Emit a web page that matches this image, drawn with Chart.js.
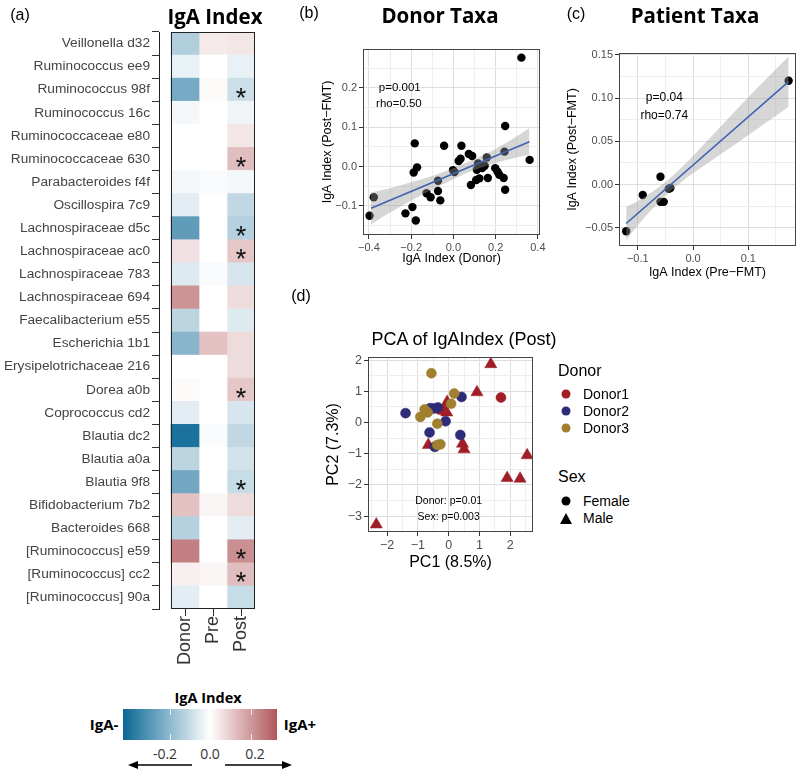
<!DOCTYPE html>
<html>
<head>
<meta charset="utf-8">
<script src="https://cdn.jsdelivr.net/npm/chart.js@4.4.1/dist/chart.umd.min.js"></script>
<style>
  body { margin: 0; background: #fff; }
  #fig { position: relative; width: 800px; height: 771px; font-family: "Liberation Sans", Arial, sans-serif; color: #000; }
  #fig canvas { position: absolute; }
  .t { position: absolute; transform: translate(-50%, -50%); white-space: nowrap; }
  .l { position: absolute; transform: translate(0, -50%); white-space: nowrap; }
  .bold { font-family: "Open Sans", sans-serif; font-weight: 700; }
  .dot { position: absolute; width: 9px; height: 9px; border-radius: 50%; transform: translate(-50%, -50%); }
</style>
</head>
<body>
<div id="fig">
  <canvas id="heat" width="285" height="680" style="left:0;top:0;width:285px;height:680px"></canvas>
  <canvas id="donorTaxa" width="270" height="240" style="left:280px;top:40px;width:270px;height:240px"></canvas>
  <canvas id="patientTaxa" width="255" height="250" style="left:545px;top:40px;width:255px;height:250px"></canvas>
  <canvas id="pca" width="245" height="235" style="left:300px;top:345px;width:245px;height:235px"></canvas>

  <div class="t" style="left:20px;top:15px;font-size:16px">(a)</div>
  <div class="t bold" style="left:215px;top:16px;font-size:20.5px">IgA Index</div>
  <div class="t" style="left:309px;top:13px;font-size:16px">(b)</div>
  <div class="t bold" style="left:440px;top:15px;font-size:20.5px">Donor Taxa</div>
  <div class="t" style="left:576px;top:14px;font-size:16px">(c)</div>
  <div class="t bold" style="left:695px;top:15px;font-size:20.5px">Patient Taxa</div>
  <div class="t" style="left:301px;top:296px;font-size:16px">(d)</div>
  <div class="t" style="left:464px;top:339px;font-size:18px">PCA of IgAIndex (Post)</div>

  <!-- PCA legend -->
  <div class="l" style="left:558px;top:371px;font-size:16px">Donor</div>
  <div class="dot" style="left:566px;top:394px;background:#a11d27"></div>
  <div class="l" style="left:583px;top:394px;font-size:14px">Donor1</div>
  <div class="dot" style="left:566px;top:411px;background:#2e2b78"></div>
  <div class="l" style="left:583px;top:411px;font-size:14px">Donor2</div>
  <div class="dot" style="left:566px;top:428px;background:#a0802f"></div>
  <div class="l" style="left:583px;top:428px;font-size:14px">Donor3</div>
  <div class="l" style="left:558px;top:477px;font-size:16px">Sex</div>
  <div class="dot" style="left:566px;top:501px;background:#000"></div>
  <div class="l" style="left:583px;top:501px;font-size:14px">Female</div>
  <div style="position:absolute;left:560px;top:513px;width:0;height:0;border-left:6px solid transparent;border-right:6px solid transparent;border-bottom:11px solid #000"></div>
  <div class="l" style="left:583px;top:518px;font-size:14px">Male</div>

  <!-- colour key -->
  <div class="t bold" style="left:208px;top:697px;font-size:14.5px">IgA Index</div>
  <div class="t bold" style="left:104px;top:724px;font-size:15px">IgA-</div>
  <div class="t bold" style="left:300px;top:724px;font-size:15px">IgA+</div>
  <div style="position:absolute;left:123px;top:709px;width:154px;height:31px;background:linear-gradient(to right,#0b6795 0%,#ffffff 56.5%,#b0575a 100%)"></div>
  <div style="position:absolute;left:170px;top:709px;width:1px;height:6px;background:rgba(255,255,255,0.8)"></div>
  <div style="position:absolute;left:170px;top:734px;width:1px;height:6px;background:rgba(255,255,255,0.8)"></div>
  <div style="position:absolute;left:251px;top:709px;width:1px;height:6px;background:rgba(255,255,255,0.8)"></div>
  <div style="position:absolute;left:251px;top:734px;width:1px;height:6px;background:rgba(255,255,255,0.8)"></div>
  <div class="t" style="left:165px;top:753px;font-size:14px;font-family:'Open Sans',sans-serif;color:#333">-0.2</div>
  <div class="t" style="left:210px;top:753px;font-size:14px;font-family:'Open Sans',sans-serif;color:#333">0.0</div>
  <div class="t" style="left:255px;top:753px;font-size:14px;font-family:'Open Sans',sans-serif;color:#333">0.2</div>
  <svg style="position:absolute;left:120px;top:757px" width="180" height="16">
    <line x1="72" y1="8" x2="14" y2="8" stroke="#000" stroke-width="1.5"/>
    <polygon points="8,8 18,4 18,12" fill="#000"/>
    <line x1="105" y1="8" x2="166" y2="8" stroke="#000" stroke-width="1.5"/>
    <polygon points="172,8 162,4 162,12" fill="#000"/>
  </svg>
</div>

<script>
// ---- (a) heatmap data ----
const taxa = [
  'Veillonella d32', 'Ruminococcus ee9', 'Ruminococcus 98f', 'Ruminococcus 16c',
  'Ruminococcaceae e80', 'Ruminococcaceae 630', 'Parabacteroides f4f', 'Oscillospira 7c9',
  'Lachnospiraceae d5c', 'Lachnospiraceae ac0', 'Lachnospiraceae 783', 'Lachnospiraceae 694',
  'Faecalibacterium e55', 'Escherichia 1b1', 'Erysipelotrichaceae 216', 'Dorea a0b',
  'Coprococcus cd2', 'Blautia dc2', 'Blautia a0a', 'Blautia 9f8',
  'Bifidobacterium 7b2', 'Bacteroides 668', '[Ruminococcus] e59', '[Ruminococcus] cc2',
  '[Ruminococcus] 90a'
];
const columns = ['Donor', 'Pre', 'Post'];
const donorIga = [-0.14, -0.04, -0.24, -0.02, 0.00, 0.00, -0.02, -0.05, -0.28, 0.06, -0.06, 0.21, -0.12,
  -0.21, 0.00, 0.01, -0.05, -0.40, -0.12, -0.25, 0.12, -0.13, 0.25, 0.03, -0.05];
const preIga = [0.04, 0.00, 0.01, 0.00, 0.00, 0.00, -0.01, 0.00, 0.00, 0.00, -0.01, 0.00, 0.00,
  0.12, 0.00, 0.00, 0.00, -0.01, 0.00, 0.00, 0.02, 0.00, 0.00, 0.02, 0.00];
const postIga = [0.05, -0.04, -0.09, -0.03, 0.05, 0.13, -0.02, -0.11, -0.13, 0.11, -0.07, 0.07, -0.06,
  0.07, 0.07, 0.11, -0.07, -0.11, -0.08, -0.10, 0.07, -0.05, 0.22, 0.13, -0.10];
const postSignificant = [0, 0, 1, 0, 0, 1, 0, 0, 1, 1, 0, 0, 0, 0, 0, 1, 0, 0, 0, 1, 0, 0, 1, 1, 0];
const colourLimits = [-0.43, 0.33];

// ---- (b) donor taxa ----
const donorX = [0.322, -0.397, -0.377, -0.227, -0.194, -0.178, -0.183, -0.172, -0.188, -0.127,
  -0.108, -0.073, -0.062, -0.073, -0.044, -0.002, 0.005, 0.025, 0.034, 0.038,
  0.073, 0.089, 0.083, 0.108, 0.123, 0.117, 0.127, 0.136, 0.111, 0.163,
  0.158, 0.198, 0.209, 0.217, 0.238, 0.245, 0.242, 0.245, 0.361, 0.148];
const donorPostY = [0.277, -0.125, -0.078, -0.119, -0.103, -0.137, 0.059, -0.002, -0.015, -0.068,
  -0.078, -0.062, -0.086, -0.036, 0.053, -0.009, -0.014, 0.014, 0.020, 0.053,
  0.032, 0.027, -0.047, -0.034, -0.030, 0.008, 0.000, -0.004, -0.008, -0.029,
  0.023, -0.004, -0.013, -0.021, -0.029, -0.059, 0.038, 0.103, 0.017, 0.002];
const donorFitX = [-0.39, 0.36];
const donorFitY = [-0.106, 0.063];
const donorBandX = [-0.39, -0.3, -0.2, -0.1, 0.0, 0.1, 0.2, 0.3, 0.36];
const donorBandHigh = [-0.066, -0.055, -0.040, -0.024, -0.004, 0.019, 0.045, 0.077, 0.098];
const donorBandLow = [-0.147, -0.117, -0.086, -0.058, -0.032, -0.009, 0.009, 0.023, 0.030];
const donorXTicks = [-0.4, -0.3, -0.2, -0.1, 0, 0.1, 0.2, 0.3, 0.4];
const donorXMajor = [-0.4, -0.2, 0, 0.2, 0.4];
const donorXLabels = ['\u22120.4', '\u22120.2', '0.0', '0.2', '0.4'];
const donorYTicks = [-0.15, -0.1, -0.05, 0, 0.05, 0.1, 0.15, 0.2, 0.25];
const donorYMajor = [-0.1, 0, 0.1, 0.2];
const donorYLabels = ['\u22120.1', '0.0', '0.1', '0.2'];

// ---- (c) patient taxa ----
const patientPreX = [-0.121, -0.091, -0.059, -0.059, -0.053, -0.044, -0.041, 0.173];
const patientPostY = [-0.054, -0.012, 0.009, -0.020, -0.020, -0.005, -0.004, 0.120];
const patientFitX = [-0.121, 0.173];
const patientFitY = [-0.045, 0.119];
const patientBandX = [-0.121, -0.1, -0.075, -0.05, -0.025, 0, 0.05, 0.1, 0.173];
const patientBandHigh = [-0.026, -0.019, -0.009, 0.003, 0.017, 0.033, 0.067, 0.101, 0.148];
const patientBandLow = [-0.064, -0.047, -0.029, -0.013, 0.001, 0.013, 0.035, 0.057, 0.090];
const patientXTicks = [-0.1, -0.05, 0, 0.05, 0.1, 0.15];
const patientXMajor = [-0.1, 0, 0.1];
const patientXLabels = ['\u22120.1', '0.0', '0.1'];
const patientYTicks = [-0.05, -0.025, 0, 0.025, 0.05, 0.075, 0.1, 0.125, 0.15];
const patientYMajor = [-0.05, 0, 0.05, 0.1, 0.15];
const patientYLabels = ['\u22120.05', '0.00', '0.05', '0.10', '0.15'];

// ---- (d) PCA ----
const donor1Female = [[1.70, 0.80], [-0.19, 0.40], [-0.30, 0.42]];
const donor1Male = [[1.37, 1.87], [0.92, 0.97], [-2.35, -3.27], [-0.66, -0.72], [0.45, -0.68],
  [0.50, -0.86], [1.90, -1.78], [2.32, -1.80], [2.55, -1.05], [-0.05, 0.66], [-0.06, 0.32]];
const donor2Female = [[-1.40, 0.30], [0.42, 0.82], [-0.62, -0.32], [0.38, -0.40], [-0.10, 0.04],
  [-0.60, 0.46], [-0.35, 0.48], [-0.48, 0.45], [-0.45, -0.78]];
const donor3Female = [[-0.56, 1.58], [0.18, 0.93], [0.08, 0.60], [-0.92, 0.18], [-0.78, 0.42],
  [-0.68, 0.32], [-0.37, -0.04], [-0.37, -0.72], [-0.27, -0.70]];
const pcaXTicks = [-2.5, -2, -1.5, -1, -0.5, 0, 0.5, 1, 1.5, 2, 2.5];
const pcaXMajor = [-2, -1, 0, 1, 2];
const pcaXLabels = ['\u22122', '\u22121', '0', '1', '2'];
const pcaYTicks = [-3, -2.5, -2, -1.5, -1, -0.5, 0, 0.5, 1, 1.5, 2];
const pcaYMajor = [-3, -2, -1, 0, 1, 2];
const pcaYLabels = ['\u22123', '\u22122', '\u22121', '0', '1', '2'];

Chart.defaults.font.family = '"Liberation Sans", Arial, sans-serif';
Chart.defaults.animation = false;
Chart.defaults.plugins.legend.display = false;
Chart.defaults.plugins.tooltip.enabled = false;

// blue - white - red fill like scale_fill_gradient2
const lowRGB = [11, 103, 149], midRGB = [255, 255, 255], highRGB = [176, 87, 90];
function fillFor(v) {
  const t = v < 0 ? Math.min(v / colourLimits[0], 1) : Math.min(v / colourLimits[1], 1);
  const end = v < 0 ? lowRGB : highRGB;
  const c = midRGB.map((m, k) => Math.round(m + (end[k] - m) * t));
  return 'rgb(' + c.join(',') + ')';
}

const heatDecor = {
  id: 'heatDecor',
  afterDatasetsDraw(chart) {
    const { ctx, chartArea: a, scales: { x, y } } = chart;
    const left = Math.round(x.getPixelForValue(0)), right = Math.round(x.getPixelForValue(3));
    ctx.save();
    ctx.strokeStyle = '#222';
    ctx.lineWidth = 1;
    ctx.strokeRect(left + 0.5, Math.round(a.top) + 0.5, right - left - 1, Math.round(a.bottom - a.top) - 1);
    ctx.fillStyle = '#111';
    ctx.font = '27px "Liberation Sans"';
    ctx.textAlign = 'center';
    ctx.textBaseline = 'alphabetic';
    taxa.forEach((t, i) => {
      if (postSignificant[i]) ctx.fillText('*', x.getPixelForValue(2.5), y.getPixelForValue(i) + 17);
    });
    ctx.restore();
  }
};

new Chart(document.getElementById('heat'), {
  type: 'bar',
  data: {
    labels: taxa,
    datasets: [donorIga, preIga, postIga].map((vals, c) => ({
      label: columns[c],
      data: taxa.map(() => 1),
      backgroundColor: vals.map(fillFor),
      borderWidth: 0,
      barPercentage: 1,
      categoryPercentage: 1
    }))
  },
  options: {
    responsive: false,
    indexAxis: 'y',
    layout: { padding: { left: 0, top: 32, right: 30, bottom: 0 } },
    scales: {
      x: {
        type: 'linear', stacked: true, min: -0.43, max: 3,
        afterBuildTicks: s => { s.ticks = [0.5, 1.5, 2.5].map(v => ({ value: v })); },
        afterFit: s => { s.height = 71; },
        ticks: { callback: (v, i) => columns[i], font: { size: 18 }, color: '#333', minRotation: 90, maxRotation: 90, padding: 0, autoSkip: false },
        grid: { drawOnChartArea: false, tickLength: 7, tickColor: '#333' },
        border: { display: false }
      },
      y: {
        stacked: true,
        afterFit: s => { s.width = 159; },
        ticks: { font: { size: 13.7 }, color: '#444', autoSkip: false, padding: 2 },
        grid: { drawOnChartArea: false, tickLength: 7, tickColor: '#333' },
        border: { color: '#222', width: 1 }
      }
    }
  },
  plugins: [heatDecor]
});

// frame + text notes for the ggplot-style panels
const frameAndNotes = {
  id: 'frameAndNotes',
  afterDraw(chart, args, opts) {
    const { ctx, chartArea: a, scales: { x, y } } = chart;
    ctx.save();
    ctx.strokeStyle = '#444';
    ctx.lineWidth = 1;
    ctx.strokeRect(Math.round(a.left) + 0.5, Math.round(a.top) + 0.5, Math.round(a.right - a.left) - 1, Math.round(a.bottom - a.top) - 1);
    ctx.fillStyle = '#000';
    ctx.textAlign = 'center';
    ctx.textBaseline = 'middle';
    (opts.notes || []).forEach(n => {
      ctx.font = n.size + 'px "Liberation Sans"';
      ctx.fillText(n.text, x.getPixelForValue(n.x), y.getPixelForValue(n.y));
    });
    ctx.restore();
  }
};

function ggAxis(o) {
  const isMajor = v => o.majors.includes(v);
  return {
    type: 'linear', min: o.min, max: o.max,
    afterBuildTicks: s => { s.ticks = o.ticks.map(v => ({ value: v })); },
    afterFit: s => { if (o.width) s.width = o.width; if (o.height) s.height = o.height; },
    ticks: {
      callback: v => (isMajor(v) ? o.labels[o.majors.indexOf(v)] : ''),
      font: { size: o.tickSize }, color: '#4d4d4d', padding: 2, autoSkip: false, maxRotation: 0
    },
    grid: {
      color: c => (isMajor(c.tick.value) ? '#dedede' : '#eeeeee'),
      lineWidth: 1, tickLength: 4,
      tickColor: c => (isMajor(c.tick.value) ? '#333' : 'rgba(0,0,0,0)')
    },
    border: { display: false },
    title: { display: true, text: o.title, font: { size: o.titleSize }, color: '#000', padding: o.titlePad }
  };
}

const pairs = (xs, ys) => xs.map((x, i) => ({ x: x, y: ys[i] }));

function fitDatasets(px, py, bandX, bandLow, bandHigh, fitX, fitY) {
  return [
    { data: pairs(px, py), pointRadius: 4.2, backgroundColor: '#000', borderColor: '#000', borderWidth: 0, order: 3 },
    { data: pairs(bandX, bandLow), showLine: true, pointRadius: 0, borderWidth: 0, fill: false, cubicInterpolationMode: 'monotone', order: 2 },
    { data: pairs(bandX, bandHigh), showLine: true, pointRadius: 0, borderWidth: 0, fill: '-1', backgroundColor: 'rgba(153,153,153,0.4)', cubicInterpolationMode: 'monotone', order: 2 },
    { data: pairs(fitX, fitY), showLine: true, pointRadius: 0, borderColor: '#3f63b3', borderWidth: 1.6, order: 1 }
  ];
}

new Chart(document.getElementById('donorTaxa'), {
  type: 'scatter',
  data: { datasets: fitDatasets(donorX, donorPostY, donorBandX, donorBandLow, donorBandHigh, donorFitX, donorFitY) },
  options: {
    responsive: false,
    layout: { padding: { left: 0, top: 9, right: 10, bottom: 0 } },
    scales: {
      x: ggAxis({ min: -0.428, max: 0.41, ticks: donorXTicks, majors: donorXMajor, labels: donorXLabels, tickSize: 11,
        height: 45, title: 'IgA Index (Donor)', titleSize: 12.5, titlePad: { top: 0, bottom: 13.5 } }),
      y: ggAxis({ min: -0.174, max: 0.299, ticks: donorYTicks, majors: donorYMajor, labels: donorYLabels, tickSize: 11,
        width: 83, title: 'IgA Index (Post\u2212FMT)', titleSize: 12.5, titlePad: { top: 40.5, bottom: 0 } })
    },
    plugins: { frameAndNotes: { notes: [
      { text: 'p=0.001', x: -0.254, y: 0.200, size: 11.5 },
      { text: 'rho=0.50', x: -0.258, y: 0.160, size: 11.5 }
    ] } }
  },
  plugins: [frameAndNotes]
});

new Chart(document.getElementById('patientTaxa'), {
  type: 'scatter',
  data: { datasets: fitDatasets(patientPreX, patientPostY, patientBandX, patientBandLow, patientBandHigh, patientFitX, patientFitY) },
  options: {
    responsive: false,
    layout: { padding: { left: 0, top: 13, right: 3, bottom: 0 } },
    scales: {
      x: ggAxis({ min: -0.134, max: 0.186, ticks: patientXTicks, majors: patientXMajor, labels: patientXLabels, tickSize: 11,
        height: 44, title: 'IgA Index (Pre\u2212FMT)', titleSize: 12.5, titlePad: { top: 0, bottom: 9.5 } }),
      y: ggAxis({ min: -0.071, max: 0.152, ticks: patientYTicks, majors: patientYMajor, labels: patientYLabels, tickSize: 11,
        width: 74, title: 'IgA Index (Post\u2212FMT)', titleSize: 12.5, titlePad: { top: 20.5, bottom: 0 } })
    },
    plugins: { frameAndNotes: { notes: [
      { text: 'p=0.04', x: -0.052, y: 0.100, size: 12 },
      { text: 'rho=0.74', x: -0.052, y: 0.079, size: 12 }
    ] } }
  },
  plugins: [frameAndNotes]
});

const toXY = arr => arr.map(p => ({ x: p[0], y: p[1] }));
function pcaSet(arr, colour, shape) {
  return {
    data: toXY(arr), pointStyle: shape, pointRadius: shape === 'triangle' ? 7 : 5,
    backgroundColor: colour, borderColor: colour, borderWidth: 0.5
  };
}

new Chart(document.getElementById('pca'), {
  type: 'scatter',
  data: {
    datasets: [
      pcaSet(donor3Female, '#a0802f', 'circle'),
      pcaSet(donor2Female, '#2e2b78', 'circle'),
      pcaSet(donor1Female, '#a11d27', 'circle'),
      pcaSet(donor1Male, '#a11d27', 'triangle')
    ]
  },
  options: {
    responsive: false,
    layout: { padding: { left: 0, top: 12, right: 12, bottom: 0 } },
    scales: {
      x: ggAxis({ min: -2.62, max: 2.74, ticks: pcaXTicks, majors: pcaXMajor, labels: pcaXLabels, tickSize: 12.5,
        height: 48, title: 'PC1 (8.5%)', titleSize: 16, titlePad: { top: 0, bottom: 7.4 } }),
      y: ggAxis({ min: -3.51, max: 2.1, ticks: pcaYTicks, majors: pcaYMajor, labels: pcaYLabels, tickSize: 12.5,
        width: 68, title: 'PC2 (7.3%)', titleSize: 16, titlePad: { top: 24.4, bottom: 0 } })
    },
    plugins: { frameAndNotes: { notes: [
      { text: 'Donor: p=0.01', x: 0, y: -2.52, size: 10.5 },
      { text: 'Sex: p=0.003', x: 0, y: -3.03, size: 10.5 }
    ] } }
  },
  plugins: [frameAndNotes]
});
</script>
</body>
</html>
